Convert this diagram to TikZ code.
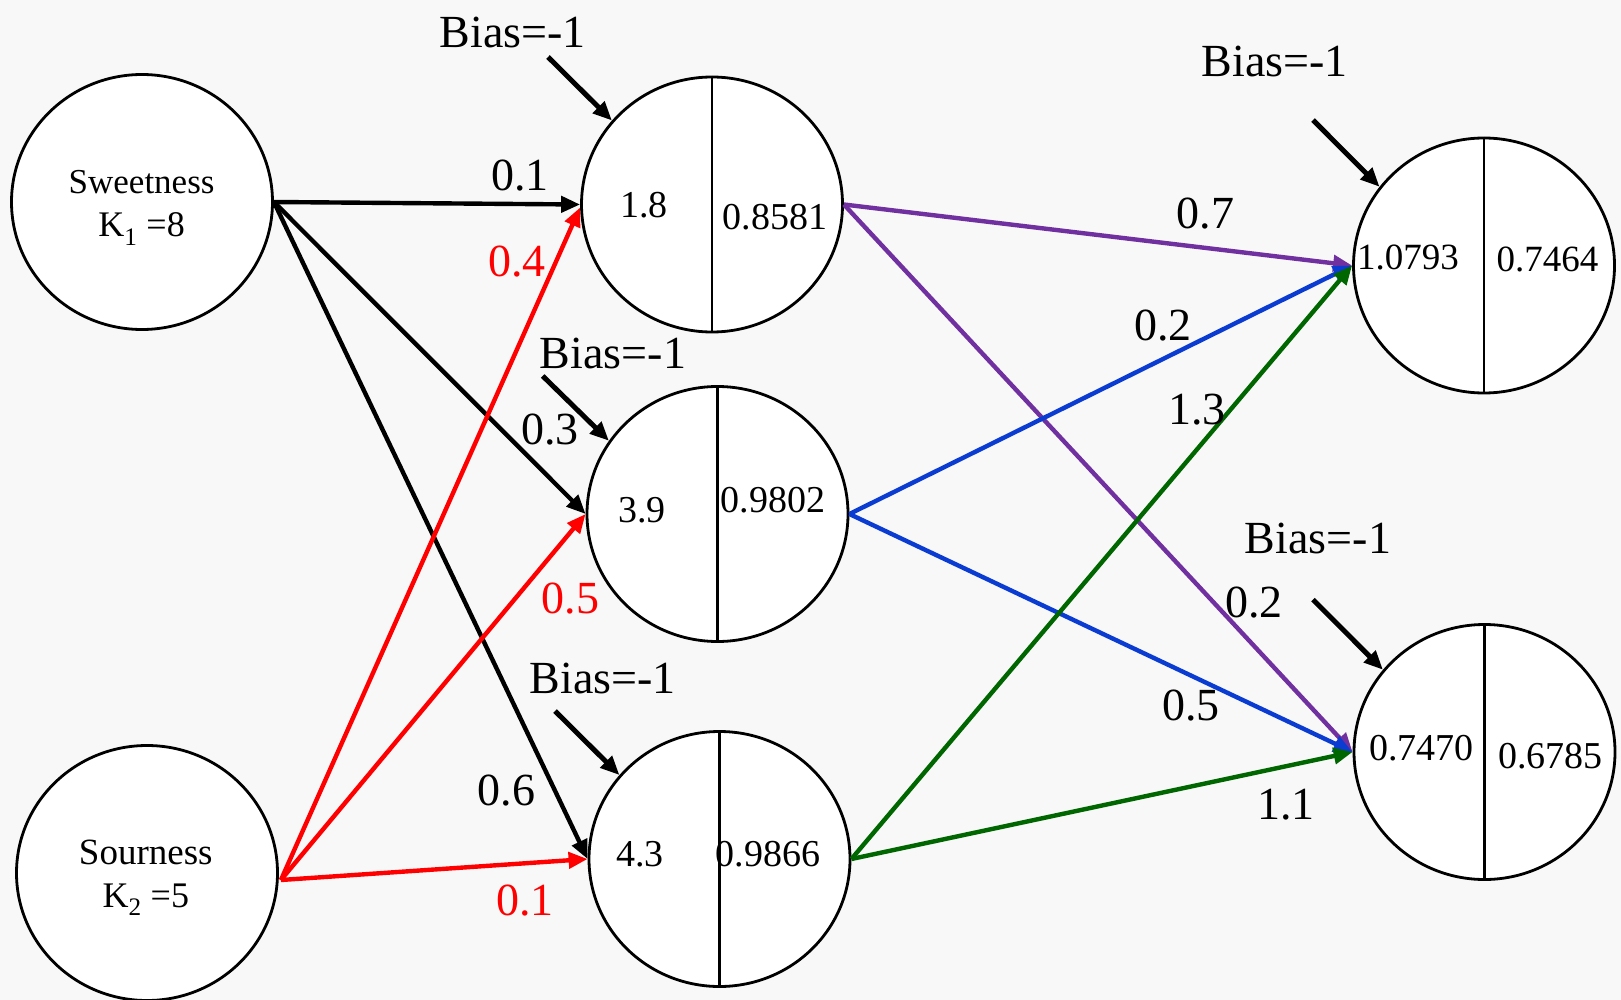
\documentclass[tikz,border=0pt]{standalone}
\usepackage{fontspec}
\setmainfont{Liberation Serif}
\usetikzlibrary{arrows.meta,shapes.geometric,calc}
\definecolor{bgc}{RGB}{248,248,249}
\definecolor{pur}{RGB}{112,48,160}
\definecolor{blu}{RGB}{10,60,210}
\definecolor{grn}{RGB}{0,102,0}
\definecolor{rd}{RGB}{255,0,0}
\begin{document}
\begin{tikzpicture}[x=1pt,y=-1pt,
  neuron/.style={ellipse,draw,fill=white,line width=2.8pt,minimum width=261pt,minimum height=255pt,inner sep=0pt},
  divider/.style={line width=2.2pt},
  conn/.style={line width=4.4pt,-{Triangle[length=19pt,width=16pt]}},
  biasarrow/.style={line width=5pt,-{Triangle[length=19pt,width=16pt]}},
  lbl/.style={font=\fontsize{46}{50}\selectfont,inner sep=0pt},
  val/.style={font=\fontsize{38}{42}\selectfont,inner sep=0pt},
  inp/.style={font=\fontsize{36}{40}\selectfont,inner sep=0pt,align=center}]
\fill[bgc] (0,0) rectangle (1621,1000);
\useasboundingbox (0,0) rectangle (1621,1000);

% neurons
\node[neuron] (sweet) at (142,202) {};
\node[neuron] (sour) at (147,873) {};
\node[neuron] (h1) at (712,204.5) {};
\node[neuron] (h2) at (717.5,514) {};
\node[neuron] (h3) at (719.5,859) {};
\node[neuron] (o1) at (1484,265.5) {};
\node[neuron] (o2) at (1484.5,752) {};

\foreach \n in {h1,h2,h3,o1,o2}{\draw[divider] (\n.north) -- (\n.south);}

% input texts
\node[inp,font=\fontsize{35}{40}\selectfont] (sweett) at (141.6,182) {Sweetness};
\node[inp] (sweetk) at (141.6,229) {K\textsubscript{1} =8};
\node[inp,font=\fontsize{37}{40}\selectfont] (sourt) at (145.8,852) {Sourness};
\node[inp] (sourk) at (145.8,900) {K\textsubscript{2} =5};

% values
\node[val] (h1a) at (644,204.7) {1.8};
\node[val] (h1b) at (775,217) {0.8581};
\node[val] (h2a) at (642,509.7) {3.9};
\node[val] (h2b) at (773,500) {0.9802};
\node[val] (h3a) at (640,854) {4.3};
\node[val] (h3b) at (768,854) {0.9866};
\node[val,font=\fontsize{37}{40}\selectfont] (o1a) at (1408,257.4) {1.0793};
\node[val,font=\fontsize{37}{40}\selectfont] (o1b) at (1547.6,259.5) {0.7464};
\node[val] (o2a) at (1421.5,748.5) {0.7470};
\node[val] (o2b) at (1550.7,755.7) {0.6785};

% connectors
\coordinate (sourout) at ($(sour.east)+(2,7)$);
\draw[conn,black] (sweet.east) -- (h1.west);
\draw[conn,black] (sweet.east) -- (h2.west);
\draw[conn,black] (sweet.east) -- (h3.west);
\draw[conn,rd] (sourout) -- ($(h1.west)+(0,3)$);
\draw[conn,rd] (sourout) -- (h2.west);
\draw[conn,rd] (sourout) -- (h3.west);
\draw[conn,pur] (h1.east) -- (o1.west);
\draw[conn,pur] (h1.east) -- (o2.west);
\draw[conn,blu] (h2.east) -- (o1.west);
\draw[conn,blu] (h2.east) -- (o2.west);
\draw[conn,grn] (h3.east) -- (o1.west);
\draw[conn,grn] (h3.east) -- (o2.west);

% weight labels
\node[lbl] (w1) at (520,175.7) {0.1};
\node[lbl,text=rd] (w2) at (517,261.5) {0.4};
\node[lbl] (w3) at (550,430) {0.3};
\node[lbl,text=rd] (w4) at (570.6,598.6) {0.5};
\node[lbl] (w5) at (506.6,791) {0.6};
\node[lbl,text=rd] (w6) at (525,900.4) {0.1};
\node[lbl] (w7) at (1205.4,214) {0.7};
\node[lbl] (w8) at (1163,325.6) {0.2};
\node[lbl] (w9) at (1197,410) {1.3};
\node[lbl] (w10) at (1254,602.7) {0.2};
\node[lbl] (w11) at (1191,706) {0.5};
\node[lbl] (w12) at (1286,805) {1.1};

% bias labels and arrows
\node[lbl] (b1) at (512.8,32) {Bias=-1};
\node[lbl] (b2) at (613,353.5) {Bias=-1};
\node[lbl] (b3) at (602.7,678) {Bias=-1};
\node[lbl] (b4) at (1274.7,61) {Bias=-1};
\node[lbl] (b5) at (1318,538.6) {Bias=-1};
\coordinate (b1s) at (548,57);
\coordinate (b2s) at (542.7,376);
\coordinate (b3s) at (555,711);
\coordinate (b4s) at (1313,120);
\coordinate (b5s) at (1313,599.6);
\draw[biasarrow] (b1s) -- (h1.140);
\draw[biasarrow] (b2s) -- (h2.146);
\draw[biasarrow] (b3s) -- (h3.140);
\draw[biasarrow] (b4s) -- (o1.143);
\draw[biasarrow] (b5s) -- (o2.141);
\end{tikzpicture}
\end{document}
